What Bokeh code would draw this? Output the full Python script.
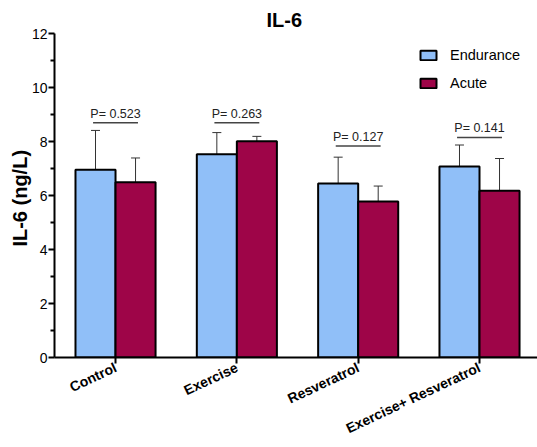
from bokeh.plotting import figure
from bokeh.models import (ColumnDataSource, Range1d, FixedTicker, Whisker, TeeHead,
                          Legend, LegendItem)
from bokeh.core.properties import value
from bokeh.embed import file_html
from bokeh.resources import INLINE
import numpy as np

categories = ["Control", "Exercise", "Resveratrol", "Exercise+ Resveratrol"]
endurance = [6.95, 7.53, 6.44, 7.07]
endurance_err = [1.46, 0.80, 0.98, 0.80]
acute = [6.49, 8.01, 5.78, 6.18]
acute_err = [0.90, 0.18, 0.57, 1.19]
p_labels = ["P= 0.523", "P= 0.263", "P= 0.127", "P= 0.141"]
p_line_y = [8.69, 8.69, 7.83, 8.15]
y_ticks = [0, 2, 4, 6, 8, 10, 12]
y_minor = [1, 3, 5, 7, 9, 11]

FONT = "Liberation Sans"
BLUE = "#90BFF8"
RED = "#9E0548"

pos = np.arange(1, len(categories) + 1)
bw = 0.33
off = bw / 2

src_e = ColumnDataSource(dict(x=pos - off, top=endurance,
                              upper=np.array(endurance) + np.array(endurance_err),
                              lower=np.array(endurance) - np.array(endurance_err)))
src_a = ColumnDataSource(dict(x=pos + off, top=acute,
                              upper=np.array(acute) + np.array(acute_err),
                              lower=np.array(acute) - np.array(acute_err)))

p = figure(width=537, height=447, output_backend="svg", toolbar_location=None,
           x_range=Range1d(0.497, 4.478), y_range=Range1d(0, 12),
           min_border_left=54, min_border_right=0, min_border_top=33, min_border_bottom=90,
           title="IL-6")
p.outline_line_color = None
p.xgrid.visible = False
p.ygrid.visible = False
p.background_fill_color = "white"
p.border_fill_color = "white"

p.title.text_font = FONT
p.title.text_font_style = "bold"
p.title.text_font_size = "20px"
p.title.text_color = "black"
p.title.align = "left"
p.title.offset = 212
p.title.standoff = 6
p.title.vertical_align = "bottom"

r_e = p.vbar(x="x", top="top", width=bw, bottom=0, source=src_e,
             fill_color=BLUE, line_color="black", line_width=2)
r_a = p.vbar(x="x", top="top", width=bw, bottom=0, source=src_a,
             fill_color=RED, line_color="black", line_width=2)

for src in (src_e, src_a):
    w = Whisker(base="x", upper="upper", lower="lower", source=src,
                line_color="#333333", line_width=1,
                upper_head=TeeHead(size=9, line_color="#333333", line_width=1),
                lower_head=TeeHead(size=9, line_color="#333333", line_width=1))
    p.add_layout(w)

# p-value annotations
half = 0.185
p.segment(x0=pos - half, x1=pos + half, y0=p_line_y, y1=p_line_y,
          line_color="#444444", line_width=1.5)
p.text(x=pos, y=np.array(p_line_y) + 0.34, text=p_labels,
       text_font=value(FONT), text_font_size="12.5px", text_color="#222222",
       text_align="center", text_baseline="alphabetic")

# axes
ya = p.yaxis[0]
ya.ticker = FixedTicker(ticks=y_ticks, minor_ticks=y_minor)
ya.axis_label = "IL-6  (ng/L)"
ya.axis_label_text_font = FONT
ya.axis_label_text_font_style = "bold"
ya.axis_label_text_font_size = "20px"
ya.axis_label_text_color = "black"
ya.axis_label_standoff = -2
ya.major_label_text_font = FONT
ya.major_label_text_font_size = "14px"
ya.major_label_text_color = "black"
ya.major_label_standoff = 1
ya.axis_line_width = 2
ya.axis_line_color = "black"
ya.major_tick_line_width = 2
ya.minor_tick_line_width = 2
ya.major_tick_out = 6
ya.major_tick_in = 0
ya.minor_tick_out = 4
ya.minor_tick_in = 0

xa = p.xaxis[0]
xa.ticker = FixedTicker(ticks=list(pos), minor_ticks=[])
xa.major_label_overrides = {int(i): c for i, c in zip(pos, categories)}
xa.major_label_orientation = 0.44
xa.major_label_text_font = FONT
xa.major_label_text_font_style = "bold"
xa.major_label_text_font_size = "14px"
xa.major_label_text_color = "black"
xa.major_label_standoff = 3
xa.axis_line_width = 2
xa.axis_line_color = "black"
xa.major_tick_line_width = 2
xa.major_tick_out = 6
xa.major_tick_in = 0
xa.minor_tick_out = 0

legend = Legend(items=[LegendItem(label="Endurance", renderers=[r_e]),
                       LegendItem(label="Acute", renderers=[r_a])],
                location=(364, 266), orientation="vertical",
                glyph_width=20, glyph_height=12, label_height=12,
                spacing=12, padding=0, margin=0, label_standoff=12,
                label_text_font=FONT, label_text_font_size="14.5px",
                label_text_color="black", border_line_color=None,
                background_fill_alpha=0)
p.add_layout(legend)

open("out.html", "w").write(file_html(p, INLINE))
